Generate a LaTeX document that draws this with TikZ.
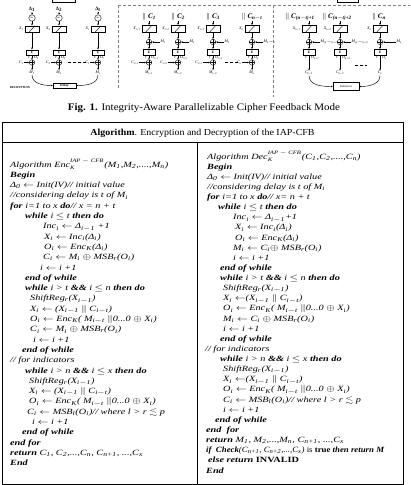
\documentclass[tikz,border=0pt]{standalone}
\usepackage{amsmath,amssymb,graphicx}
\usepackage{fontspec}
\setmainfont{Liberation Serif}
\usetikzlibrary{arrows.meta}
\newcommand{\ssb}[1]{\textsubscript{#1}}
\newcommand{\Larr}{\ensuremath{\leftarrow}}
\newcommand{\Xor}{\ensuremath{\oplus}}
\newcommand{\Par}{\ensuremath{\|}}
\newcommand{\Leq}{\ensuremath{\leq}}
\newcommand{\Lsim}{\ensuremath{\lesssim}}
\newcommand{\stk}[2]{\setbox0=\hbox{\fontsize{5.2}{6}\selectfont #1}\setbox2=\hbox{\fontsize{5.2}{6}\selectfont #2}\raisebox{4.6pt}{\rlap{\copy0}}\raisebox{-2.8pt}{\copy2}\hspace{\dimexpr\wd0-\wd2+0.8pt\relax}}
\newcommand{\sx}[1]{\scalebox{1.28}[1]{#1}}
\begin{document}
\begin{tikzpicture}[x=1pt,y=-1pt,
  fl/.style={line width=0.4pt},
  xb/.style={draw, line width=0.5pt, minimum width=14pt, minimum height=6.5pt, inner sep=0pt,
     path picture={\draw[line width=0.4pt] ([xshift=-3pt]path picture bounding box.south) -- ([xshift=3pt]path picture bounding box.north);}},
  eb/.style={draw, line width=0.5pt, minimum width=12pt, minimum height=5.5pt, inner sep=0pt, font=\fontsize{3.5}{3.5}\selectfont\bfseries},
  xr/.style={circle, draw, line width=0.4pt, minimum size=5.5pt, inner sep=0pt,
     path picture={\draw[line width=0.3pt] (path picture bounding box.north) -- (path picture bounding box.south) (path picture bounding box.west) -- (path picture bounding box.east);}},
  incc/.style={circle, draw, line width=0.4pt, minimum size=6.5pt, inner sep=0pt, font=\fontsize{2.5}{2.5}\selectfont},
  lb/.style={font=\fontsize{4}{4}\selectfont\itshape, inner sep=0.4pt},
  dlt/.style={font=\fontsize{5}{5}\selectfont\bfseries, inner sep=0.4pt},
  tl/.style={font=\fontsize{7}{7}\selectfont\bfseries\itshape, inner sep=0.3pt},
  arr/.style={-{Stealth[length=2pt,width=1.6pt]}, line width=0.45pt},
  sep/.style={densely dashed, line width=0.4pt, gray},
  alg/.style={anchor=base west, inner sep=0pt, font=\fontsize{8}{9.5}\selectfont\itshape},
  frame/.style={line width=0.8pt}]
\useasboundingbox (0,0) rectangle (410,485);

% ---------- separators and partial boxes ----------
\coordinate (s1) at (118,5); \coordinate (s2) at (410,5);
\coordinate (s3) at (118,88); \coordinate (s4) at (273,5); \coordinate (s5) at (273,97);
\draw[sep] (s1) -- (s2);
\draw[sep] (s1) -- (s3);
\draw[sep] (s4) -- (s5);
\draw[line width=0.5pt] (52,-4) rectangle (75,2.5);
\draw[line width=0.5pt] (337,-4) rectangle (358,2);

% ---------- panel 1 ----------
\foreach \nn/\cx/\dl in {a/32/1, b/59/2, c/98/t} {
  \node[dlt] (d\nn) at (\cx,9.5) {Δ\ssb{\dl}};
  \node[incc] (i\nn) at (\cx,18) {inc};
  \node[xb] (x\nn) at (\cx,29) {};
  \node[lb,anchor=east] (xl\nn) at (\cx-8,29) {X\ssb{\dl}};
  \node[eb] (e\nn) at (\cx,52.5) {E};
  \node[lb] (r\nn) at (\cx-3,58) {r};
  \node[lb,anchor=west] (ol\nn) at (\cx+1.5,57.5) {O\ssb{\dl}};
  \node[xr] (o\nn) at (\cx,62.5) {};
  \node[lb,anchor=east] (cl\nn) at (\cx-8,62.5) {C\ssb{\dl}};
  \node[lb] (m\nn) at (\cx,72.5) {M\ssb{\dl}};
  \draw[arr] (d\nn) -- (i\nn);
  \draw[arr] (i\nn) -- (x\nn);
  \draw[arr] (x\nn) -- (e\nn);
  \draw[arr] (e\nn) -- (o\nn);
  \draw[arr] (cl\nn) -- (o\nn);
  \draw[arr] (o\nn) -- (m\nn);
}
\coordinate (p1a) at (68,62.5); \coordinate (p1b) at (88,62.5);
\draw[densely dashed, line width=0.5pt] (p1a) -- (p1b);
\node[draw, line width=0.5pt, minimum width=23pt, minimum height=5.5pt, inner sep=0pt,
      font=\fontsize{3.5}{3.5}\selectfont\bfseries] (delay) at (64.5,85.5) {Delay};
\draw[arr] (ma.south) to[out=-90,in=180] (delay.west);
\draw[arr] (mc.south) to[out=-90,in=0] (delay.east);
\node[font=\fontsize{3}{3}\selectfont\bfseries, inner sep=0pt] (dec) at (20,88) {DECRYPTION};

% ---------- panel 2 ----------
\foreach \nn/\cx/\tv/\sv in {p/149/1/t+1, q/178/2/t+2, s/213/3/t+3, u/252/n$-$t/n} {
  \node[tl] (t\nn) at (\cx,17) {\Par\ C\ssb{\tv}};
  \node[xb] (x\nn) at (\cx,28.5) {};
  \node[lb,anchor=east] (xl\nn) at (\cx-8,28.5) {X\ssb{\sv}};
  \node[xr] (a\nn) at (\cx,42) {};
  \node[lb,anchor=west] (mi\nn) at (\cx+11,42) {M\ssb{\tv}};
  \node[eb] (e\nn) at (\cx,52) {E};
  \node[lb] (r\nn) at (\cx-3,58) {r};
  \node[lb,anchor=west] (ol\nn) at (\cx+1.5,57.5) {O\ssb{\sv}};
  \node[xr] (b\nn) at (\cx,62.5) {};
  \node[lb,anchor=east] (cl\nn) at (\cx-10,62.5) {C\ssb{\sv}};
  \node[lb] (mo\nn) at (\cx,72.5) {M\ssb{\sv}};
  \draw[arr] (t\nn.south -| x\nn.north) -- (x\nn);
  \draw[arr] (x\nn) -- (a\nn);
  \draw[arr] (mi\nn) -- (a\nn);
  \draw[arr] (a\nn) -- (e\nn);
  \draw[arr] (e\nn) -- (b\nn);
  \draw[arr] (cl\nn) -- (b\nn);
  \draw[arr] (b\nn) -- (mo\nn);
}
\coordinate (p2a) at (225,62.5); \coordinate (p2b) at (238,62.5);
\draw[densely dashed, line width=0.5pt] (p2a) -- (p2b);

% ---------- panel 3 ----------
\foreach \nn/\cx/\lx/\tv/\sv/\mx in {f/309/300/(n$-$t)+1/n+1/320, g/340/337/(n$-$t)+2/n+2/351, h/380/379/n/x/396} {
  \node[tl] (t\nn) at (\lx,17) {\Par\ C\ssb{\tv}};
  \node[xb] (x\nn) at (\cx,28.5) {};
  \node[lb,anchor=east] (xl\nn) at (\cx-8,28.5) {X\ssb{\sv}};
  \node[xr] (a\nn) at (\cx,42) {};
  \node[lb,anchor=west] (mi\nn) at (\mx,42) {M\ssb{\tv}};
  \node[eb] (e\nn) at (\cx,52) {E};
  \node[lb] (r\nn) at (\cx-3,58) {r};
  \node[lb,anchor=west] (ol\nn) at (\cx+1.5,57.5) {O\ssb{\sv}};
  \node[lb] (c\nn) at (\cx,73) {C\ssb{\sv}};
  \draw[arr] (t\nn.south -| x\nn.north) -- (x\nn);
  \draw[arr] (x\nn) -- (a\nn);
  \draw[arr] (mi\nn) -- (a\nn);
  \draw[arr] (a\nn) -- (e\nn);
  \draw[arr] (e\nn) -- (c\nn);
}
\coordinate (p3a) at (355,65); \coordinate (p3b) at (367,65);
\draw[densely dashed, line width=0.5pt] (p3a) -- (p3b);
\node[draw, line width=0.5pt, minimum width=26pt, minimum height=8pt, inner sep=0pt,
      font=\fontsize{3}{3}\selectfont] (ind) at (346,86.5) {Indicators};
\draw[arr] (cf.south) to[out=-90,in=180] (ind.west);
\draw[arr] (ch.south) to[out=-90,in=0] (ind.east);

% ---------- caption ----------
\node[anchor=base, inner sep=0pt, font=\fontsize{10}{12}\selectfont] (cap) at (204,110.5)
  {\scalebox{1.1}[1]{\textbf{Fig. 1.} Integrity-Aware Parallelizable Cipher Feedback Mode}};

% ---------- algorithm frame ----------
\draw[frame] (2,122) rectangle (403,484);
\draw[frame] (2,142) -- (403,142);
\draw[frame] (197.5,142) -- (197.5,484);
\node[anchor=base, inner sep=0pt, font=\fontsize{9.2}{11}\selectfont] (hdr) at (202.5,135)
  {\scalebox{1.08}[1]{\textbf{Algorithm}. Encryption and Decryption of the IAP-CFB}};

% left column
\foreach \i/\lx/\txt in {
 0/10/{Algorithm Enc\stk{IAP $-$ CFB}{K}(M\ssb{1},M\ssb{2},....,M\ssb{n})},
 1/10/{\textbf{Begin}},
 2/10/{Δ\ssb{0} \Larr{} Init(IV)// initial value},
 3/10/{//considering delay is t of M\ssb{i}},
 4/10/{\textbf{for} i=1 to x \textbf{do}// x = n + t},
 5/25/{\textbf{while} i \Leq{} t \textbf{then do}},
 6/43/{Inc\ssb{i} \Larr{} Δ\ssb{i$-$1} +1},
 7/44/{X\ssb{i} \Larr{} Inc\ssb{i}(Δ\ssb{i})},
 8/44/{O\ssb{i} \Larr{} Enc\ssb{K}(Δ\ssb{i})},
 9/43/{C\ssb{i} \Larr{} M\ssb{i} \Xor{} MSB\ssb{r}(O\ssb{i})},
 10/40/{i \Larr{} i +1},
 11/25/{\textbf{end of while}},
 12/25/{\textbf{while} i > t \textbf{\&\&} i \Leq{} n \textbf{then do}},
 13/30/{ShiftReg\ssb{r}(X\ssb{i$-$1})},
 14/30/{X\ssb{i} \Larr{} (X\ssb{i$-$1} \Par{} C\ssb{i$-$t})},
 15/30/{O\ssb{i} \Larr{} Enc\ssb{K}( M\ssb{i$-$t} \Par0...0 \Xor{} X\ssb{i})},
 16/30/{C\ssb{i} \Larr{} M\ssb{i} \Xor{} MSB\ssb{r}(O\ssb{i})},
 17/33/{i \Larr{} i +1},
 18/22/{\textbf{end of while}},
 19/10/{// for indicators},
 20/25/{\textbf{while} i > n \textbf{\&\&} i \Leq{} x \textbf{then do}},
 21/29/{ShiftReg\ssb{r}(X\ssb{i$-$1})},
 22/29/{X\ssb{i} \Larr{} (X\ssb{i$-$1} \Par{} C\ssb{i$-$t})},
 23/29/{O\ssb{i} \Larr{} Enc\ssb{K}( M\ssb{i$-$t} \Par0...0 \Xor{} X\ssb{i})},
 24/27/{C\ssb{i} \Larr{} MSB\ssb{l}(O\ssb{i})// where l > r \Lsim{} p},
 25/32/{i \Larr{} i +1},
 26/22/{\textbf{end of while}},
 27/10/{\textbf{end for}},
 28/10/{\textbf{return} C\ssb{1}, C\ssb{2},...,C\ssb{n}, C\ssb{n+1}, ...,C\ssb{x}},
 29/10/{\textbf{End}}} {
  \node[alg] (L\i) at (\lx,167+10.3*\i) {\sx{\txt}};
}

% right column
\foreach \i/\lx/\txt in {
 0/207/{Algorithm Dec\stk{IAP $-$ CFB}{K}(C\ssb{1},C\ssb{2},....,C\ssb{n})},
 1/207/{\textbf{Begin}},
 2/207/{Δ\ssb{0} \Larr{} Init(IV)// initial value},
 3/207/{//considering delay is t of M\ssb{i}},
 4/207/{\textbf{for} i=1 to x \textbf{do}// x= n + t},
 5/218/{\textbf{while} i \Leq{} t \textbf{then do}},
 6/233/{Inc\ssb{i} \Larr{} Δ\ssb{i$-$1}+1},
 7/235/{X\ssb{i} \Larr{} Inc\ssb{i}(Δ\ssb{i})},
 8/235/{O\ssb{i} \Larr{} Enc\ssb{K}(Δ\ssb{i})},
 9/233/{M\ssb{i} \Larr{} C\ssb{i}\Xor{} MSB\ssb{r}(O\ssb{i})},
 10/233/{i \Larr{} i +1},
 11/220/{\textbf{end of while}},
 12/220/{\textbf{while} i > t \textbf{\&\&} i \Leq{} n \textbf{then do}},
 13/223/{ShiftReg\ssb{r}(X\ssb{i$-$1})},
 14/223/{X\ssb{i} \Larr{}(X\ssb{i$-$1} \Par{} C\ssb{i$-$t})},
 15/223/{O\ssb{i} \Larr{} Enc\ssb{K}( M\ssb{i$-$t} \Par0...0 \Xor{} X\ssb{i})},
 16/223/{M\ssb{i} \Larr{} C\ssb{i} \Xor{} MSB\ssb{r}(O\ssb{i})},
 17/223/{i \Larr{} i +1},
 18/220/{\textbf{end of while}},
 19/205/{// for indicators},
 20/220/{\textbf{while} i > n \textbf{\&\&} i \Leq{} x \textbf{then do}},
 21/223/{ShiftReg\ssb{r}(X\ssb{i$-$1})},
 22/223/{X\ssb{i} \Larr{}(X\ssb{i$-$1} \Par{} C\ssb{i$-$t})},
 23/223/{O\ssb{i} \Larr{} Enc\ssb{K}( M\ssb{i$-$t} \Par0...0 \Xor{} X\ssb{i})},
 24/223/{C\ssb{i} \Larr{} MSB\ssb{l}(O\ssb{i})// where l > r \Lsim{} p},
 25/223/{i \Larr{} i +1},
 26/215/{\textbf{end of while}},
 27/206/{\textbf{end\ \ for}},
 28/206/{\textbf{return} M\ssb{1}, M\ssb{2},...,M\ssb{n}, C\ssb{n+1}, ...,C\ssb{x}},
 29/206/{\scalebox{0.86}[1]{\textbf{if} \ \textbf{Check}(C\ssb{n+1}, C\ssb{n+2},...,C\ssb{x}) {\upshape is \textbf{true}} \textbf{then return M}}},
 30/208/{\textbf{else return {\upshape INVALID}}},
 31/206/{\textbf{End}}} {
  \node[alg] (R\i) at (\lx,159+10.13*\i) {\sx{\txt}};
}
\end{tikzpicture}
\end{document}
